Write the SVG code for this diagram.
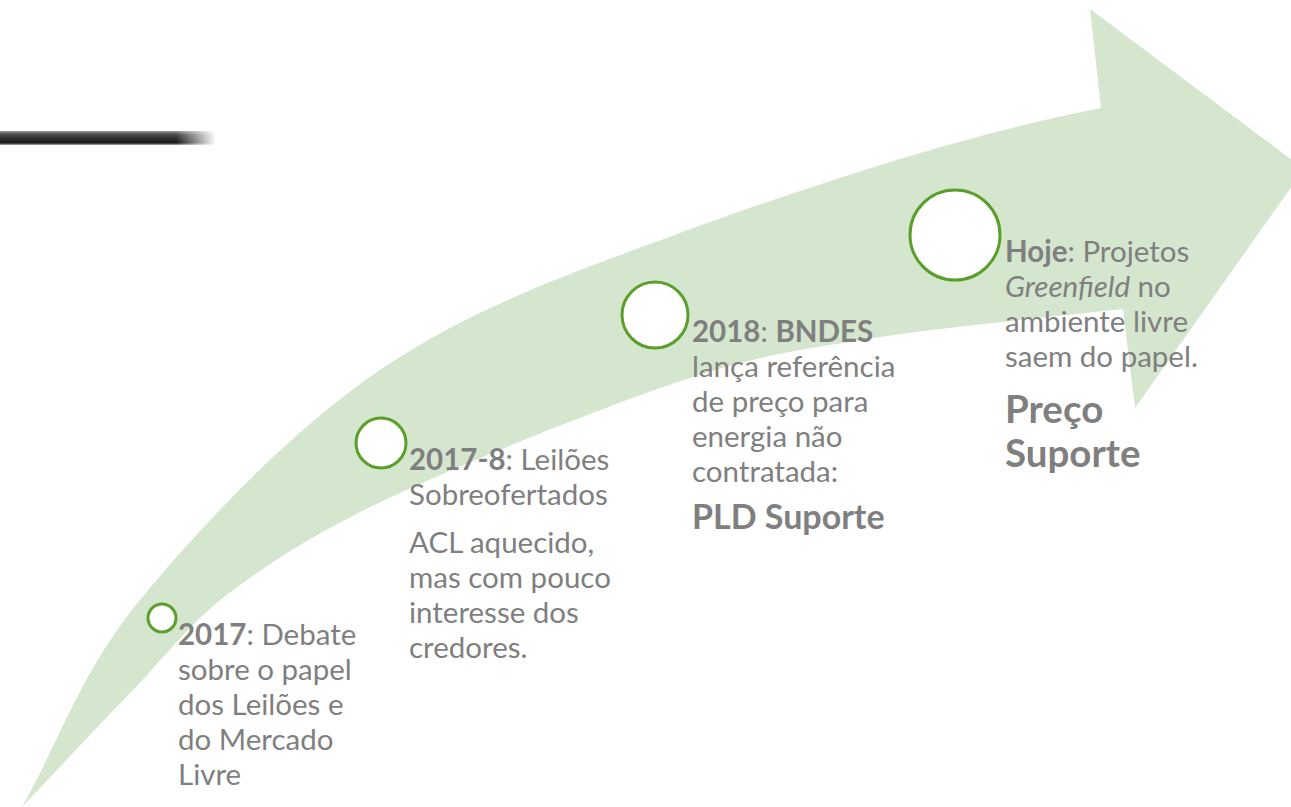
<svg xmlns="http://www.w3.org/2000/svg" width="1291" height="807" viewBox="0 0 1291 807">
  <defs>
    <linearGradient id="barV" x1="0" y1="0" x2="0" y2="1">
      <stop offset="0" stop-color="#9a9a9a"/>
      <stop offset="0.25" stop-color="#4a4a4a"/>
      <stop offset="0.6" stop-color="#2a2a2a"/>
      <stop offset="0.85" stop-color="#1a1a1a"/>
      <stop offset="1" stop-color="#b0b0b0"/>
    </linearGradient>
    <linearGradient id="barFade" x1="0" y1="0" x2="1" y2="0">
      <stop offset="0" stop-color="#ffffff" stop-opacity="0"/>
      <stop offset="1" stop-color="#ffffff" stop-opacity="1"/>
    </linearGradient>
    <style>
      .band { fill: #d5e6ce; }
      .dot { fill: #ffffff; stroke: #5b9f2b; stroke-width: 3; }
      .txt { font-family: Lato, "Liberation Sans", sans-serif; font-size: 29.5px; fill: #7f7f7f; }
      .b { font-weight: bold; }
      .i { font-style: italic; }
      .big1 { font-size: 34px; font-weight: bold; }
      .big2 { font-size: 38.5px; font-weight: bold; }
    </style>
  </defs>

  <rect x="0" y="0" width="1291" height="807" fill="#ffffff"/>

  <!-- dark bar top-left -->
  <g id="bar">
    <rect x="0" y="131" width="215" height="14" fill="url(#barV)"/>
    <rect x="176" y="130" width="40" height="16" fill="url(#barFade)"/>
  </g>

  <!-- curved arrow -->
  <g id="arrow">
    <path class="band" d="M 22 807
      C 61 738 80 673 140 600
      C 200 527 290 431 380 370
      C 470 309 560 277 680 233
      C 800 189 961 135 1101 108
      L 1090 9 L 1304 169 L 1135 408 L 1123 309
      C 1042 318 952 326 880 337
      C 808 349 770 352 690 378
      C 610 404 476 458 400 493
      C 324 528 278 557 233 590
      C 189 623 168 654 133 690
      C 98 726 59 768 22 807 Z"/>
  </g>

  <g id="connectors"></g>

  <g id="node-2017">
    <circle class="dot" cx="162" cy="618" r="14"/>
    <text class="txt" x="178" y="645"><tspan class="b">2017</tspan>: Debate</text>
    <text class="txt" x="178" y="680">sobre o papel</text>
    <text class="txt" x="178" y="715">dos Leilões e</text>
    <text class="txt" x="178" y="750">do Mercado</text>
    <text class="txt" x="178" y="785">Livre</text>
  </g>

  <g id="node-2017-8">
    <circle class="dot" cx="381" cy="443" r="25"/>
    <text class="txt" x="409" y="470"><tspan class="b">2017-8</tspan>: Leilões</text>
    <text class="txt" x="409" y="505">Sobreofertados</text>
    <text class="txt" x="409" y="553">ACL aquecido,</text>
    <text class="txt" x="409" y="588">mas com pouco</text>
    <text class="txt" x="409" y="623">interesse dos</text>
    <text class="txt" x="409" y="658">credores.</text>
  </g>

  <g id="node-2018">
    <circle class="dot" cx="655" cy="315" r="33"/>
    <text class="txt" x="692" y="342"><tspan class="b">2018</tspan>: <tspan class="b">BNDES</tspan></text>
    <text class="txt" x="692" y="377">lança referência</text>
    <text class="txt" x="692" y="412">de preço para</text>
    <text class="txt" x="692" y="447">energia não</text>
    <text class="txt" x="692" y="482">contratada:</text>
    <text class="txt big1" x="692" y="529">PLD Suporte</text>
  </g>

  <g id="node-hoje">
    <circle class="dot" cx="955" cy="235" r="45"/>
    <text class="txt" x="1005" y="262"><tspan class="b">Hoje</tspan>: Projetos</text>
    <text class="txt" x="1005" y="297"><tspan class="i">Greenfield</tspan> no</text>
    <text class="txt" x="1005" y="332">ambiente livre</text>
    <text class="txt" x="1005" y="367">saem do papel.</text>
    <text class="txt big2" x="1005" y="423">Preço</text>
    <text class="txt big2" x="1005" y="467">Suporte</text>
  </g>
</svg>
